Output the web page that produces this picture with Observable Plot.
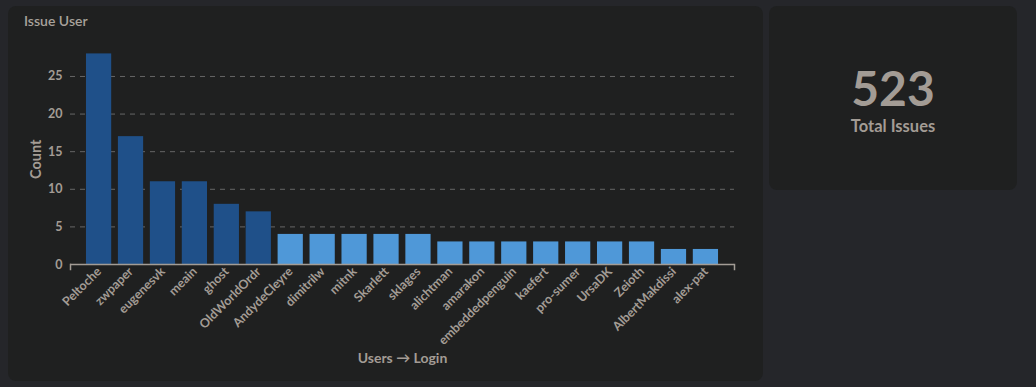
<!DOCTYPE html>
<html>
<head>
<meta charset="utf-8">
<script src="https://cdn.jsdelivr.net/npm/d3@7"></script>
<script src="https://cdn.jsdelivr.net/npm/@observablehq/plot@0.6"></script>
<style>
  html, body { margin: 0; padding: 0; background: #25262a; width: 1036px; height: 387px; overflow: hidden; font-family: Lato, "Open Sans", sans-serif; }
  .panel { position: absolute; background: #1f2020; border-radius: 8px; }
  #p1 { left: 8px; top: 6px; width: 755px; height: 375px; }
  #p2 { left: 769px; top: 6px; width: 248px; height: 184px; }
  #title { position: absolute; left: 24px; top: 12px; font-size: 14px; color: #a8a29b; font-weight: 600; }
  #chart { position: absolute; left: 0; top: 0; }
  #chart svg text { font-weight: 700; }
  #big { position: absolute; left: 769px; width: 248px; top: 64px; text-align: center; font-size: 48px; font-weight: 700; color: #a39c95; line-height: 1; }
  #sub { position: absolute; left: 769px; width: 248px; top: 116px; text-align: center; font-size: 16.5px; font-weight: 700; color: #a39c95; }
</style>
</head>
<body>
<div class="panel" id="p1"></div>
<div class="panel" id="p2"></div>
<div id="title">Issue User</div>
<div id="chart"></div>
<div id="big"></div>
<div id="sub">Total Issues</div>
<script>
const users = ["Peltoche","zwpaper","eugenesvk","meain","ghost","OldWorldOrdr","AndydeCleyre","dimitrilw","mitnk","Skarlett","sklages","alichtman","amarakon","embeddedpenguin","kaefert","pro-sumer","UrsaDK","Zeioth","AlbertMakdissi","alex-pat"];
const counts = [28,17,11,11,8,7,4,4,4,4,4,3,3,3,3,3,3,3,2,2];
const shades = ["dark","dark","dark","dark","dark","dark","light","light","light","light","light","light","light","light","light","light","light","light","light","light"];
const totalIssues = 523;
const yTicks = [0,5,10,15,20,25];

const data = users.map((u, i) => ({user: u, count: counts[i], shade: shades[i]}));
document.getElementById("big").textContent = totalIssues;

const axisColor = "#a39c95";
const plot = Plot.plot({
  width: 770,
  height: 387,
  marginLeft: 70,
  marginRight: 36,
  marginTop: 53.4,
  marginBottom: 123,
  style: {background: "transparent", color: axisColor, fontFamily: "Lato, sans-serif", fontSize: "11px", fontWeight: "700"},
  x: {domain: users, paddingInner: 0.21, paddingOuter: 0.5, round: false, label: null},
  y: {domain: [0, 28], label: null},
  color: {domain: ["dark","light"], range: ["#1f5089","#4f98d8"]},
  marks: [
    Plot.gridY(yTicks.filter(d => d > 0), {stroke: "#666666", strokeOpacity: 1, strokeDasharray: "5,5", strokeWidth: 1}),
    Plot.barY(data, {x: "user", y: "count", fill: "shade"}),
    Plot.ruleY([0], {stroke: axisColor, strokeWidth: 1.5}),
    Plot.frame({anchor: "left", stroke: axisColor, strokeWidth: 1.5, insetTop: 210.6, insetBottom: -5}),
    Plot.frame({anchor: "right", stroke: axisColor, strokeWidth: 1.5, insetTop: 210.6, insetBottom: -5}),
    Plot.axisY({ticks: yTicks, tickSize: 0, tickPadding: 8, fontSize: 12.5, fill: axisColor, label: "Count", labelAnchor: "center", labelArrow: "none", labelOffset: 40}),
    Plot.axisX({tickSize: 0, tickRotate: -45, tickPadding: 5, fontSize: 12.5, fill: axisColor, label: "Users → Login", labelAnchor: "center", labelArrow: "none", labelOffset: 98})
  ]
});
document.getElementById("chart").appendChild(plot);
plot.querySelectorAll("[aria-label='y-axis label'] text").forEach(t => { t.setAttribute("font-size", "14.5"); });
plot.querySelectorAll("[aria-label='x-axis label'] text").forEach(t => { t.setAttribute("font-size", "14"); });
</script>
</body>
</html>
